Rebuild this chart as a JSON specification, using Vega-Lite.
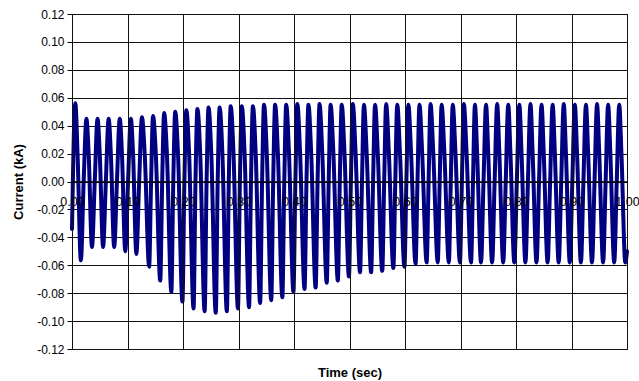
{
  "$schema": "https://vega.github.io/schema/vega-lite/v6.json",
  "width": 555,
  "height": 335,
  "autosize": "none",
  "padding": {"left": 72, "top": 14, "right": 12, "bottom": 32},
  "background": "white",
  "config": {
    "view": {"stroke": "black", "strokeWidth": 1},
    "font": "Liberation Sans"
  },
  "data": {"values": [
    {"t":0,"i":-0.034},
    {"t":0.006,"i":0.056},{"t":0.010,"i":0.02},{"t":0.016,"i":-0.0565},{"t":0.021,"i":0},
    {"t":0.026,"i":0.045},{"t":0.030,"i":0.02},{"t":0.036,"i":-0.047},{"t":0.041,"i":0},
    {"t":0.046,"i":0.045},{"t":0.050,"i":0.02},{"t":0.056,"i":-0.047},{"t":0.061,"i":0},
    {"t":0.066,"i":0.045},{"t":0.070,"i":0.02},{"t":0.076,"i":-0.047},{"t":0.081,"i":0},
    {"t":0.086,"i":0.045},{"t":0.090,"i":0.02},{"t":0.096,"i":-0.05},{"t":0.101,"i":0},
    {"t":0.106,"i":0.045},{"t":0.110,"i":0.02},{"t":0.116,"i":-0.052},{"t":0.121,"i":0},
    {"t":0.126,"i":0.046},{"t":0.131,"i":0.02},{"t":0.139,"i":-0.061},{"t":0.1425,"i":0},
    {"t":0.146,"i":0.047},{"t":0.151,"i":0.02},{"t":0.159,"i":-0.071},{"t":0.1625,"i":0},
    {"t":0.166,"i":0.049},{"t":0.171,"i":0.02},{"t":0.179,"i":-0.079},{"t":0.1825,"i":0},
    {"t":0.186,"i":0.05},{"t":0.191,"i":0.02},{"t":0.199,"i":-0.086},{"t":0.2025,"i":0},
    {"t":0.206,"i":0.051},{"t":0.211,"i":0.02},{"t":0.219,"i":-0.091},{"t":0.2225,"i":0},
    {"t":0.226,"i":0.052},{"t":0.231,"i":0.02},{"t":0.239,"i":-0.093},{"t":0.2425,"i":0},
    {"t":0.246,"i":0.053},{"t":0.251,"i":0.02},{"t":0.259,"i":-0.094},{"t":0.2625,"i":0},
    {"t":0.266,"i":0.053},{"t":0.271,"i":0.02},{"t":0.279,"i":-0.093},{"t":0.2825,"i":0},
    {"t":0.286,"i":0.054},{"t":0.291,"i":0.02},{"t":0.299,"i":-0.091},{"t":0.3025,"i":0},
    {"t":0.306,"i":0.054},{"t":0.311,"i":0.02},{"t":0.319,"i":-0.09},{"t":0.3225,"i":0},
    {"t":0.326,"i":0.054},{"t":0.331,"i":0.02},{"t":0.339,"i":-0.087},{"t":0.3425,"i":0},
    {"t":0.346,"i":0.055},{"t":0.351,"i":0.02},{"t":0.359,"i":-0.085},{"t":0.3625,"i":0},
    {"t":0.366,"i":0.055},{"t":0.371,"i":0.02},{"t":0.379,"i":-0.083},{"t":0.3825,"i":0},
    {"t":0.386,"i":0.055},{"t":0.391,"i":0.02},{"t":0.399,"i":-0.079},{"t":0.4025,"i":0},
    {"t":0.406,"i":0.0555},{"t":0.411,"i":0.02},{"t":0.419,"i":-0.077},{"t":0.4225,"i":0},
    {"t":0.426,"i":0.055},{"t":0.431,"i":0.02},{"t":0.439,"i":-0.076},{"t":0.4425,"i":0},
    {"t":0.446,"i":0.0555},{"t":0.451,"i":0.02},{"t":0.459,"i":-0.0725},{"t":0.4625,"i":0},
    {"t":0.466,"i":0.055},{"t":0.471,"i":0.02},{"t":0.479,"i":-0.071},{"t":0.4825,"i":0},
    {"t":0.486,"i":0.055},{"t":0.491,"i":0.02},{"t":0.499,"i":-0.068},{"t":0.5025,"i":0},
    {"t":0.506,"i":0.0555},{"t":0.511,"i":0.02},{"t":0.519,"i":-0.065},{"t":0.5225,"i":0},
    {"t":0.526,"i":0.055},{"t":0.531,"i":0.02},{"t":0.539,"i":-0.065},{"t":0.5425,"i":0},
    {"t":0.546,"i":0.055},{"t":0.551,"i":0.02},{"t":0.559,"i":-0.064},{"t":0.5625,"i":0},
    {"t":0.566,"i":0.0555},{"t":0.571,"i":0.02},{"t":0.579,"i":-0.062},{"t":0.5825,"i":0},
    {"t":0.586,"i":0.055},{"t":0.591,"i":0.02},{"t":0.599,"i":-0.061},{"t":0.6025,"i":0},
    {"t":0.606,"i":0.055},{"t":0.611,"i":0.02},{"t":0.619,"i":-0.059},{"t":0.6225,"i":0},
    {"t":0.626,"i":0.055},{"t":0.631,"i":0.02},{"t":0.639,"i":-0.058},{"t":0.6425,"i":0},
    {"t":0.646,"i":0.0555},{"t":0.651,"i":0.02},{"t":0.659,"i":-0.058},{"t":0.6625,"i":0},
    {"t":0.666,"i":0.055},{"t":0.671,"i":0.02},{"t":0.679,"i":-0.058},{"t":0.6825,"i":0},
    {"t":0.686,"i":0.055},{"t":0.691,"i":0.02},{"t":0.699,"i":-0.058},{"t":0.7025,"i":0},
    {"t":0.706,"i":0.0555},{"t":0.711,"i":0.02},{"t":0.719,"i":-0.058},{"t":0.7225,"i":0},
    {"t":0.726,"i":0.055},{"t":0.730,"i":0.02},{"t":0.737,"i":-0.058},{"t":0.7415,"i":0},
    {"t":0.746,"i":0.055},{"t":0.750,"i":0.02},{"t":0.757,"i":-0.058},{"t":0.7615,"i":0},
    {"t":0.766,"i":0.0555},{"t":0.770,"i":0.02},{"t":0.777,"i":-0.058},{"t":0.7815,"i":0},
    {"t":0.786,"i":0.055},{"t":0.790,"i":0.02},{"t":0.797,"i":-0.058},{"t":0.8015,"i":0},
    {"t":0.806,"i":0.055},{"t":0.810,"i":0.02},{"t":0.817,"i":-0.058},{"t":0.8215,"i":0},
    {"t":0.826,"i":0.0555},{"t":0.830,"i":0.02},{"t":0.837,"i":-0.058},{"t":0.8415,"i":0},
    {"t":0.846,"i":0.055},{"t":0.850,"i":0.02},{"t":0.857,"i":-0.058},{"t":0.8615,"i":0},
    {"t":0.866,"i":0.055},{"t":0.870,"i":0.02},{"t":0.877,"i":-0.058},{"t":0.8815,"i":0},
    {"t":0.886,"i":0.0555},{"t":0.890,"i":0.02},{"t":0.897,"i":-0.058},{"t":0.9015,"i":0},
    {"t":0.906,"i":0.055},{"t":0.910,"i":0.02},{"t":0.917,"i":-0.058},{"t":0.9215,"i":0},
    {"t":0.926,"i":0.055},{"t":0.930,"i":0.02},{"t":0.937,"i":-0.058},{"t":0.9415,"i":0},
    {"t":0.946,"i":0.0555},{"t":0.950,"i":0.02},{"t":0.957,"i":-0.058},{"t":0.9615,"i":0},
    {"t":0.966,"i":0.055},{"t":0.970,"i":0.02},{"t":0.977,"i":-0.058},{"t":0.9815,"i":0},
    {"t":0.986,"i":0.055},{"t":0.990,"i":0.02},{"t":0.997,"i":-0.058},{"t":1.0,"i":-0.05}
  ]},
  "mark": {"type": "line", "color": "#000080", "strokeWidth": 4, "strokeJoin": "round", "strokeCap": "round", "interpolate": "monotone"},
  "encoding": {
    "x": {
      "field": "t", "type": "quantitative",
      "scale": {"domain": [0, 1], "nice": false, "zero": false},
      "axis": {
        "title": "Time (sec)",
        "values": [0, 0.1, 0.2, 0.3, 0.4, 0.5, 0.6, 0.7, 0.8, 0.9, 1.0],
        "format": ".2f",
        "offset": -167.5,
        "zindex": 1,
        "ticks": false,
        "labelPadding": 14,
        "labelFontSize": 12.5,
        "labelColor": "black",
        "labelFont": "Liberation Sans",
        "labelFlush": false,
        "labelOverlap": false,
        "domainColor": "black",
        "domainWidth": 1.5,
        "grid": true,
        "gridColor": "#111111",
        "gridWidth": 1,
        "gridOpacity": 1,
        "titleFont": "Liberation Sans",
        "titleFontSize": 13,
        "titleFontWeight": "bold",
        "titleColor": "black",
        "titlePadding": 158
      }
    },
    "y": {
      "field": "i", "type": "quantitative",
      "scale": {"domain": [-0.12, 0.12], "nice": false, "zero": false},
      "axis": {
        "title": "Current (kA)",
        "values": [-0.12, -0.1, -0.08, -0.06, -0.04, -0.02, 0, 0.02, 0.04, 0.06, 0.08, 0.1, 0.12],
        "labelExpr": "replace(format(datum.value, '.2f'), '\u2212', '-')",
        "tickSize": 5,
        "tickColor": "black",
        "labelPadding": 3,
        "labelFontSize": 12,
        "labelColor": "black",
        "labelFont": "Liberation Sans",
        "domain": false,
        "grid": true,
        "gridColor": "#111111",
        "gridWidth": 1,
        "gridOpacity": 1,
        "titleFont": "Liberation Sans",
        "titleFontSize": 13,
        "titleFontWeight": "bold",
        "titleColor": "black",
        "titlePadding": 11
      }
    }
  }
}
